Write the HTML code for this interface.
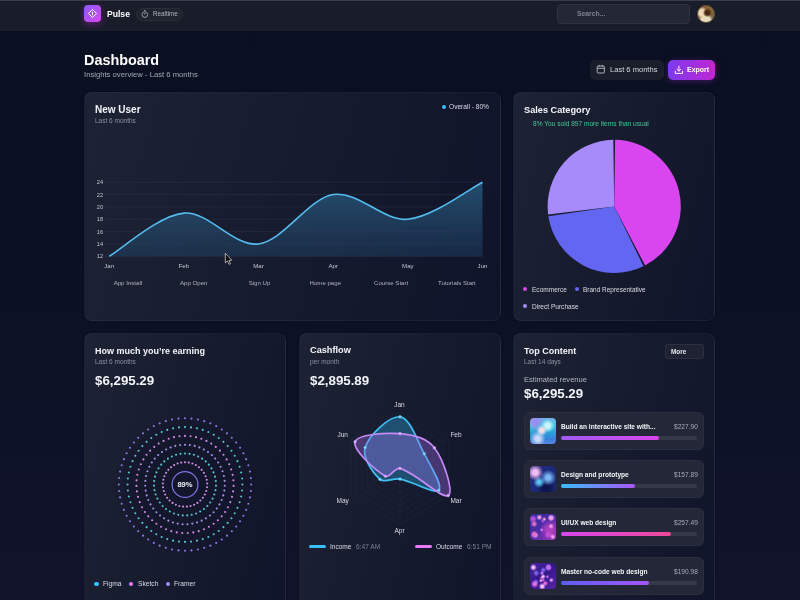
<!DOCTYPE html>
<html><head><meta charset="utf-8">
<style>
*{margin:0;padding:0;box-sizing:border-box}
html,body{width:800px;height:600px;overflow:hidden;background:linear-gradient(180deg,#0a0f21 0%,#0b1023 40%,#0e1228 75%,#11132b 100%);font-family:"Liberation Sans",sans-serif;color:#fff}
.a{position:absolute;white-space:nowrap}
body{-webkit-font-smoothing:antialiased}
.t{will-change:transform}
.nav{position:absolute;left:0;top:0;width:800px;height:31px;background:#191d2a;border-top:1.5px solid #3a3e4b}
.logo{left:84px;top:5.5px;width:17px;height:17px;border-radius:4px;background:linear-gradient(135deg,#8b5cf6,#d946ef);box-shadow:0 2px 7px rgba(192,38,211,.45)}
.card{position:absolute;border-radius:8px;border:1px solid rgba(255,255,255,.045);background:linear-gradient(105deg,#1d2235 0%,#181c2f 40%,#10142a 100%);box-shadow:0 0 2px rgba(0,0,0,.4)}
.ttl{font-weight:700;color:#f4f5f8}
.sub{color:#8c91a0}
.t{line-height:1}
</style></head><body>
<div class="nav"></div>
<div class="a logo" style="top:5.2px"><svg width="17" height="17" viewBox="0 0 17 17" style="position:absolute;left:0;top:0"><path d="M8.5 4.4 L12.6 8.5 L8.5 12.6 L4.4 8.5 Z" fill="none" stroke="#fff" stroke-width="1" stroke-linejoin="round"/><line x1="8.5" y1="7.1" x2="8.5" y2="9.9" stroke="#fff" stroke-width="1" stroke-linecap="round"/></svg></div>
<div class="a t ttl" style="left:106.6px;top:10px;font-size:8.6px;color:#fff">Pulse</div>
<div class="a" style="left:136px;top:7.5px;width:47px;height:13.5px;border-radius:7px;background:#20242f;border:1px solid #2a2e3a"></div>
<svg class="a" style="left:140px;top:8px" width="10" height="12" viewBox="0 0 10 12"><circle cx="4.8" cy="6.6" r="2.8" fill="none" stroke="#a4a8b3" stroke-width=".9"/><line x1="4" y1="2.6" x2="5.6" y2="2.6" stroke="#a4a8b3" stroke-width=".9"/><line x1="4.8" y1="6.6" x2="4.8" y2="5" stroke="#a4a8b3" stroke-width=".8"/></svg>
<div class="a t" style="left:152.8px;top:11.3px;font-size:6.3px;color:#b0b4be">Realtime</div>
<div class="a" style="left:557px;top:4px;width:133px;height:20px;border-radius:4px;background:#232736;border:1px solid #2e3242"></div>
<div class="a t" style="left:576.5px;top:11px;font-size:6.8px;font-weight:700;color:#7f8391">Search...</div>
<div class="a" style="left:697.3px;top:5.4px;width:17.6px;height:17.6px;border-radius:50%;border:1px solid #6b5440;border-color:#5e4e34;background:radial-gradient(circle at 58% 42%,#4a2812 0 16%,transparent 34%),radial-gradient(circle at 24% 42%,#ecd8b4 0 20%,transparent 38%),radial-gradient(circle at 48% 92%,#e6dcc2 0 26%,transparent 44%),radial-gradient(circle at 80% 60%,#7a6640 0 20%,transparent 40%),#8a6238"></div>

<div class="a t ttl" style="left:84px;top:52.6px;font-size:14.4px;color:#fff">Dashboard</div>
<div class="a t sub" style="left:84px;top:71px;font-size:7.68px;color:#a3a8b4">Insights overview - Last 6 months</div>

<div class="a" style="left:590px;top:60px;width:74px;height:19.5px;border-radius:5px;background:#1a1e2b"></div>
<svg class="a" style="left:596px;top:64px" width="10" height="11" viewBox="0 0 10 11"><rect x="1.2" y="2" width="7.2" height="7" rx="1.2" fill="none" stroke="#cfd2da" stroke-width=".8"/><line x1="1.2" y1="4.3" x2="8.4" y2="4.3" stroke="#cfd2da" stroke-width=".8"/><line x1="3.2" y1="1.1" x2="3.2" y2="2.7" stroke="#cfd2da" stroke-width=".8"/><line x1="6.4" y1="1.1" x2="6.4" y2="2.7" stroke="#cfd2da" stroke-width=".8"/></svg>
<div class="a t" style="left:610px;top:65.6px;font-size:7.56px;color:#d5d8df">Last 6 months</div>
<div class="a" style="left:668px;top:60px;width:47px;height:19.5px;border-radius:5px;background:linear-gradient(90deg,#7c3aed,#c026d3);box-shadow:0 1px 6px rgba(168,45,230,.35)"></div>
<svg class="a" style="left:673.5px;top:64.5px" width="10" height="10" viewBox="0 0 10 10"><path d="M1.3 6.2 V8.4 H8.5 V6.2" fill="none" stroke="#fff" stroke-width=".95" stroke-linecap="round" stroke-linejoin="round"/><path d="M4.9 1.2 V6 M3 4.2 L4.9 6 L6.8 4.2" fill="none" stroke="#fff" stroke-width=".95" stroke-linecap="round" stroke-linejoin="round"/></svg>
<div class="a t ttl" style="left:687px;top:66.8px;font-size:6.95px;color:#fff">Export</div>

<!-- CARD 1 -->
<div class="card" style="left:84px;top:92px;width:416.5px;height:228.5px"></div>
<div class="a t ttl" style="left:95px;top:104.6px;font-size:10px">New User</div>
<div class="a t sub" style="left:95px;top:118px;font-size:6.5px">Last 6 months</div>
<div class="a" style="left:442px;top:105px;width:4.1px;height:4.1px;border-radius:50%;background:#38bdf8"></div>
<div class="a t" style="left:449px;top:104px;font-size:6.6px;color:#d9dce3">Overall - 80%</div>
<svg class="a" style="left:0;top:0" width="800" height="600" viewBox="0 0 800 600">
<defs><linearGradient id="ag" x1="0" y1="0" x2="0" y2="1"><stop offset="0" stop-color="#3a94c4" stop-opacity=".45"/><stop offset="1" stop-color="#2a6494" stop-opacity=".26"/></linearGradient></defs>
<path d="M109.20,256.30 C121.64,249.10 158.97,215.13 183.86,213.08 C208.75,211.02 233.63,247.04 258.52,243.95 C283.41,240.86 308.29,198.67 333.18,194.55 C358.07,190.43 382.95,221.31 407.84,219.25 C432.73,217.19 470.06,188.38 482.50,182.20 L482.50,256.3 L109.20,256.3 Z" fill="url(#ag)"/>
<g stroke="#3a4058" stroke-opacity=".55" stroke-width=".6"><line x1="104.5" y1="256.30" x2="482.5" y2="256.30"/><line x1="104.5" y1="243.95" x2="482.5" y2="243.95"/><line x1="104.5" y1="231.60" x2="482.5" y2="231.60"/><line x1="104.5" y1="219.25" x2="482.5" y2="219.25"/><line x1="104.5" y1="206.90" x2="482.5" y2="206.90"/><line x1="104.5" y1="194.55" x2="482.5" y2="194.55"/><line x1="104.5" y1="182.20" x2="482.5" y2="182.20"/></g>
<path d="M109.20,256.30 C121.64,249.10 158.97,215.13 183.86,213.08 C208.75,211.02 233.63,247.04 258.52,243.95 C283.41,240.86 308.29,198.67 333.18,194.55 C358.07,190.43 382.95,221.31 407.84,219.25 C432.73,217.19 470.06,188.38 482.50,182.20" fill="none" stroke="#55bdef" stroke-width="1.6"/>
<g font-family="Liberation Sans" font-size="5.6" fill="#c3c7d0"><text x="103" y="258.40" text-anchor="end">12</text><text x="103" y="246.05" text-anchor="end">14</text><text x="103" y="233.70" text-anchor="end">16</text><text x="103" y="221.35" text-anchor="end">18</text><text x="103" y="209.00" text-anchor="end">20</text><text x="103" y="196.65" text-anchor="end">22</text><text x="103" y="184.30" text-anchor="end">24</text></g>
<g font-family="Liberation Sans" font-size="6.1" fill="#c3c7d0"><text x="109.20" y="267.8" text-anchor="middle">Jan</text><text x="183.86" y="267.8" text-anchor="middle">Feb</text><text x="258.52" y="267.8" text-anchor="middle">Mar</text><text x="333.18" y="267.8" text-anchor="middle">Apr</text><text x="407.84" y="267.8" text-anchor="middle">May</text><text x="482.50" y="267.8" text-anchor="middle">Jun</text></g>
<g font-family="Liberation Sans" font-size="6.1" fill="#aeb2bd"><text x="127.90" y="285" text-anchor="middle">App Install</text><text x="193.70" y="285" text-anchor="middle">App Open</text><text x="259.50" y="285" text-anchor="middle">Sign Up</text><text x="325.30" y="285" text-anchor="middle">Home page</text><text x="391.10" y="285" text-anchor="middle">Course Start</text><text x="456.90" y="285" text-anchor="middle">Tutorials Start</text></g>
<path d="M225.3 253.3 L225.3 262.8 L227.4 260.9 L229.1 264.4 L230.5 263.7 L228.9 260.4 L231.8 260.2 Z" fill="#050505" stroke="#d8d8d8" stroke-width=".75" stroke-linejoin="round"/>
</svg>

<!-- CARD 2 -->
<div class="card" style="left:513px;top:92px;width:202px;height:228.5px"></div>
<div class="a t ttl" style="left:523.8px;top:105.6px;font-size:9.2px">Sales Category</div>
<div class="a t" style="left:533px;top:120.6px;font-size:6.6px;color:#47c496">8% You sold 897 more items than usual</div>
<svg class="a" style="left:0;top:0" width="800" height="600" viewBox="0 0 800 600">
<g><path d="M614.2,206.4 L615.07,139.81 A66.6,66.6 0 0 1 645.11,265.39 Z" fill="#d946ef"/><path d="M614.2,206.4 L643.55,266.18 A66.6,66.6 0 0 1 548.34,216.30 Z" fill="#6366f1"/><path d="M614.2,206.4 L548.10,214.57 A66.6,66.6 0 0 1 613.33,139.81 Z" fill="#a78bfa"/></g>
</svg>
<div class="a" style="left:522.8px;top:287px;width:4.4px;height:4.4px;border-radius:50%;background:#d946ef"></div>
<div class="a t" style="left:531.7px;top:286.8px;font-size:6.56px;color:#d9dce3">Ecommerce</div>
<div class="a" style="left:575.1px;top:287px;width:4.4px;height:4.4px;border-radius:50%;background:#6366f1"></div>
<div class="a t" style="left:583.3px;top:286.8px;font-size:6.48px;color:#d9dce3">Brand Representative</div>
<div class="a" style="left:522.8px;top:303.7px;width:4.4px;height:4.4px;border-radius:50%;background:#a78bfa"></div>
<div class="a t" style="left:531.7px;top:303.5px;font-size:6.56px;color:#d9dce3">Direct Purchase</div>

<!-- CARD 3 earning -->
<div class="card" style="left:84px;top:333px;width:202px;height:300px"></div>
<div class="a t ttl" style="left:95px;top:346.8px;font-size:9px">How much you’re earning</div>
<div class="a t sub" style="left:95px;top:358.5px;font-size:6.5px">Last 6 months</div>
<div class="a t ttl" style="left:95px;top:374.4px;font-size:13.3px">$6,295.29</div>
<svg class="a" style="left:0;top:0" width="800" height="600" viewBox="0 0 800 600">
<circle cx="185" cy="484.5" r="70" fill="url(#rg)"/><defs><radialGradient id="rg"><stop offset="0" stop-color="#10132a" stop-opacity=".55"/><stop offset=".8" stop-color="#12152c" stop-opacity=".45"/><stop offset="1" stop-color="#12152c" stop-opacity="0"/></radialGradient></defs><g fill="#9078e4"><circle cx="185.00" cy="418.30" r="1.05"/><circle cx="191.49" cy="418.62" r="1.05"/><circle cx="197.91" cy="419.57" r="1.05"/><circle cx="204.22" cy="421.15" r="1.05"/><circle cx="210.33" cy="423.34" r="1.05"/><circle cx="216.21" cy="426.12" r="1.05"/><circle cx="221.78" cy="429.46" r="1.05"/><circle cx="227.00" cy="433.33" r="1.05"/><circle cx="231.81" cy="437.69" r="1.05"/><circle cx="236.17" cy="442.50" r="1.05"/><circle cx="240.04" cy="447.72" r="1.05"/><circle cx="243.38" cy="453.29" r="1.05"/><circle cx="246.16" cy="459.17" r="1.05"/><circle cx="248.35" cy="465.28" r="1.05"/><circle cx="249.93" cy="471.59" r="1.05"/><circle cx="250.88" cy="478.01" r="1.05"/><circle cx="251.20" cy="484.50" r="1.05"/><circle cx="250.88" cy="490.99" r="1.05"/><circle cx="249.93" cy="497.41" r="1.05"/><circle cx="248.35" cy="503.72" r="1.05"/><circle cx="246.16" cy="509.83" r="1.05"/><circle cx="243.38" cy="515.71" r="1.05"/><circle cx="240.04" cy="521.28" r="1.05"/><circle cx="236.17" cy="526.50" r="1.05"/><circle cx="231.81" cy="531.31" r="1.05"/><circle cx="227.00" cy="535.67" r="1.05"/><circle cx="221.78" cy="539.54" r="1.05"/><circle cx="216.21" cy="542.88" r="1.05"/><circle cx="210.33" cy="545.66" r="1.05"/><circle cx="204.22" cy="547.85" r="1.05"/><circle cx="197.91" cy="549.43" r="1.05"/><circle cx="191.49" cy="550.38" r="1.05"/><circle cx="185.00" cy="550.70" r="1.05"/><circle cx="178.51" cy="550.38" r="1.05"/><circle cx="172.09" cy="549.43" r="1.05"/><circle cx="165.78" cy="547.85" r="1.05"/><circle cx="159.67" cy="545.66" r="1.05"/><circle cx="153.79" cy="542.88" r="1.05"/><circle cx="148.22" cy="539.54" r="1.05"/><circle cx="143.00" cy="535.67" r="1.05"/><circle cx="138.19" cy="531.31" r="1.05"/><circle cx="133.83" cy="526.50" r="1.05"/><circle cx="129.96" cy="521.28" r="1.05"/><circle cx="126.62" cy="515.71" r="1.05"/><circle cx="123.84" cy="509.83" r="1.05"/><circle cx="121.65" cy="503.72" r="1.05"/><circle cx="120.07" cy="497.41" r="1.05"/><circle cx="119.12" cy="490.99" r="1.05"/><circle cx="118.80" cy="484.50" r="1.05"/><circle cx="119.12" cy="478.01" r="1.05"/><circle cx="120.07" cy="471.59" r="1.05"/><circle cx="121.65" cy="465.28" r="1.05"/><circle cx="123.84" cy="459.17" r="1.05"/><circle cx="126.62" cy="453.29" r="1.05"/><circle cx="129.96" cy="447.72" r="1.05"/><circle cx="133.83" cy="442.50" r="1.05"/><circle cx="138.19" cy="437.69" r="1.05"/><circle cx="143.00" cy="433.33" r="1.05"/><circle cx="148.22" cy="429.46" r="1.05"/><circle cx="153.79" cy="426.12" r="1.05"/><circle cx="159.67" cy="423.34" r="1.05"/><circle cx="165.78" cy="421.15" r="1.05"/><circle cx="172.09" cy="419.57" r="1.05"/><circle cx="178.51" cy="418.62" r="1.05"/></g><g fill="#55c6d0"><circle cx="185.00" cy="427.10" r="1.05"/><circle cx="191.00" cy="427.41" r="1.05"/><circle cx="196.93" cy="428.35" r="1.05"/><circle cx="202.74" cy="429.91" r="1.05"/><circle cx="208.35" cy="432.06" r="1.05"/><circle cx="213.70" cy="434.79" r="1.05"/><circle cx="218.74" cy="438.06" r="1.05"/><circle cx="223.41" cy="441.84" r="1.05"/><circle cx="227.66" cy="446.09" r="1.05"/><circle cx="231.44" cy="450.76" r="1.05"/><circle cx="234.71" cy="455.80" r="1.05"/><circle cx="237.44" cy="461.15" r="1.05"/><circle cx="239.59" cy="466.76" r="1.05"/><circle cx="241.15" cy="472.57" r="1.05"/><circle cx="242.09" cy="478.50" r="1.05"/><circle cx="242.40" cy="484.50" r="1.05"/><circle cx="242.09" cy="490.50" r="1.05"/><circle cx="241.15" cy="496.43" r="1.05"/><circle cx="239.59" cy="502.24" r="1.05"/><circle cx="237.44" cy="507.85" r="1.05"/><circle cx="234.71" cy="513.20" r="1.05"/><circle cx="231.44" cy="518.24" r="1.05"/><circle cx="227.66" cy="522.91" r="1.05"/><circle cx="223.41" cy="527.16" r="1.05"/><circle cx="218.74" cy="530.94" r="1.05"/><circle cx="213.70" cy="534.21" r="1.05"/><circle cx="208.35" cy="536.94" r="1.05"/><circle cx="202.74" cy="539.09" r="1.05"/><circle cx="196.93" cy="540.65" r="1.05"/><circle cx="191.00" cy="541.59" r="1.05"/><circle cx="185.00" cy="541.90" r="1.05"/><circle cx="179.00" cy="541.59" r="1.05"/><circle cx="173.07" cy="540.65" r="1.05"/><circle cx="167.26" cy="539.09" r="1.05"/><circle cx="161.65" cy="536.94" r="1.05"/><circle cx="156.30" cy="534.21" r="1.05"/><circle cx="151.26" cy="530.94" r="1.05"/><circle cx="146.59" cy="527.16" r="1.05"/><circle cx="142.34" cy="522.91" r="1.05"/><circle cx="138.56" cy="518.24" r="1.05"/><circle cx="135.29" cy="513.20" r="1.05"/><circle cx="132.56" cy="507.85" r="1.05"/><circle cx="130.41" cy="502.24" r="1.05"/><circle cx="128.85" cy="496.43" r="1.05"/><circle cx="127.91" cy="490.50" r="1.05"/><circle cx="127.60" cy="484.50" r="1.05"/><circle cx="127.91" cy="478.50" r="1.05"/><circle cx="128.85" cy="472.57" r="1.05"/><circle cx="130.41" cy="466.76" r="1.05"/><circle cx="132.56" cy="461.15" r="1.05"/><circle cx="135.29" cy="455.80" r="1.05"/><circle cx="138.56" cy="450.76" r="1.05"/><circle cx="142.34" cy="446.09" r="1.05"/><circle cx="146.59" cy="441.84" r="1.05"/><circle cx="151.26" cy="438.06" r="1.05"/><circle cx="156.30" cy="434.79" r="1.05"/><circle cx="161.65" cy="432.06" r="1.05"/><circle cx="167.26" cy="429.91" r="1.05"/><circle cx="173.07" cy="428.35" r="1.05"/><circle cx="179.00" cy="427.41" r="1.05"/></g><g fill="#d28ae4"><circle cx="185.00" cy="435.90" r="1.05"/><circle cx="190.54" cy="436.22" r="1.05"/><circle cx="196.01" cy="437.16" r="1.05"/><circle cx="201.33" cy="438.73" r="1.05"/><circle cx="206.44" cy="440.89" r="1.05"/><circle cx="211.28" cy="443.62" r="1.05"/><circle cx="215.76" cy="446.88" r="1.05"/><circle cx="219.85" cy="450.63" r="1.05"/><circle cx="223.49" cy="454.82" r="1.05"/><circle cx="226.62" cy="459.40" r="1.05"/><circle cx="229.21" cy="464.31" r="1.05"/><circle cx="231.22" cy="469.48" r="1.05"/><circle cx="232.63" cy="474.85" r="1.05"/><circle cx="233.42" cy="480.34" r="1.05"/><circle cx="233.58" cy="485.89" r="1.05"/><circle cx="233.11" cy="491.42" r="1.05"/><circle cx="232.00" cy="496.86" r="1.05"/><circle cx="230.29" cy="502.13" r="1.05"/><circle cx="227.98" cy="507.18" r="1.05"/><circle cx="225.12" cy="511.93" r="1.05"/><circle cx="221.73" cy="516.33" r="1.05"/><circle cx="217.86" cy="520.31" r="1.05"/><circle cx="213.57" cy="523.82" r="1.05"/><circle cx="208.90" cy="526.82" r="1.05"/><circle cx="203.92" cy="529.27" r="1.05"/><circle cx="198.69" cy="531.13" r="1.05"/><circle cx="193.29" cy="532.39" r="1.05"/><circle cx="187.77" cy="533.02" r="1.05"/><circle cx="182.23" cy="533.02" r="1.05"/><circle cx="176.71" cy="532.39" r="1.05"/><circle cx="171.31" cy="531.13" r="1.05"/><circle cx="166.08" cy="529.27" r="1.05"/><circle cx="161.10" cy="526.82" r="1.05"/><circle cx="156.43" cy="523.82" r="1.05"/><circle cx="152.14" cy="520.31" r="1.05"/><circle cx="148.27" cy="516.33" r="1.05"/><circle cx="144.88" cy="511.93" r="1.05"/><circle cx="142.02" cy="507.18" r="1.05"/><circle cx="139.71" cy="502.13" r="1.05"/><circle cx="138.00" cy="496.86" r="1.05"/><circle cx="136.89" cy="491.42" r="1.05"/><circle cx="136.42" cy="485.89" r="1.05"/><circle cx="136.58" cy="480.34" r="1.05"/><circle cx="137.37" cy="474.85" r="1.05"/><circle cx="138.78" cy="469.48" r="1.05"/><circle cx="140.79" cy="464.31" r="1.05"/><circle cx="143.38" cy="459.40" r="1.05"/><circle cx="146.51" cy="454.82" r="1.05"/><circle cx="150.15" cy="450.63" r="1.05"/><circle cx="154.24" cy="446.88" r="1.05"/><circle cx="158.72" cy="443.62" r="1.05"/><circle cx="163.56" cy="440.89" r="1.05"/><circle cx="168.67" cy="438.73" r="1.05"/><circle cx="173.99" cy="437.16" r="1.05"/><circle cx="179.46" cy="436.22" r="1.05"/></g><g fill="#ab90e6"><circle cx="185.00" cy="444.70" r="1.05"/><circle cx="189.89" cy="445.00" r="1.05"/><circle cx="194.71" cy="445.90" r="1.05"/><circle cx="199.38" cy="447.39" r="1.05"/><circle cx="203.83" cy="449.44" r="1.05"/><circle cx="208.00" cy="452.02" r="1.05"/><circle cx="211.81" cy="455.09" r="1.05"/><circle cx="215.22" cy="458.61" r="1.05"/><circle cx="218.18" cy="462.52" r="1.05"/><circle cx="220.63" cy="466.76" r="1.05"/><circle cx="222.54" cy="471.27" r="1.05"/><circle cx="223.88" cy="475.99" r="1.05"/><circle cx="224.63" cy="480.83" r="1.05"/><circle cx="224.78" cy="485.73" r="1.05"/><circle cx="224.33" cy="490.60" r="1.05"/><circle cx="223.28" cy="495.39" r="1.05"/><circle cx="221.65" cy="500.01" r="1.05"/><circle cx="219.47" cy="504.40" r="1.05"/><circle cx="216.76" cy="508.48" r="1.05"/><circle cx="213.57" cy="512.21" r="1.05"/><circle cx="209.95" cy="515.51" r="1.05"/><circle cx="205.95" cy="518.34" r="1.05"/><circle cx="201.63" cy="520.66" r="1.05"/><circle cx="197.07" cy="522.43" r="1.05"/><circle cx="192.31" cy="523.62" r="1.05"/><circle cx="187.45" cy="524.22" r="1.05"/><circle cx="182.55" cy="524.22" r="1.05"/><circle cx="177.69" cy="523.62" r="1.05"/><circle cx="172.93" cy="522.43" r="1.05"/><circle cx="168.37" cy="520.66" r="1.05"/><circle cx="164.05" cy="518.34" r="1.05"/><circle cx="160.05" cy="515.51" r="1.05"/><circle cx="156.43" cy="512.21" r="1.05"/><circle cx="153.24" cy="508.48" r="1.05"/><circle cx="150.53" cy="504.40" r="1.05"/><circle cx="148.35" cy="500.01" r="1.05"/><circle cx="146.72" cy="495.39" r="1.05"/><circle cx="145.67" cy="490.60" r="1.05"/><circle cx="145.22" cy="485.73" r="1.05"/><circle cx="145.37" cy="480.83" r="1.05"/><circle cx="146.12" cy="475.99" r="1.05"/><circle cx="147.46" cy="471.27" r="1.05"/><circle cx="149.37" cy="466.76" r="1.05"/><circle cx="151.82" cy="462.52" r="1.05"/><circle cx="154.78" cy="458.61" r="1.05"/><circle cx="158.19" cy="455.09" r="1.05"/><circle cx="162.00" cy="452.02" r="1.05"/><circle cx="166.17" cy="449.44" r="1.05"/><circle cx="170.62" cy="447.39" r="1.05"/><circle cx="175.29" cy="445.90" r="1.05"/><circle cx="180.11" cy="445.00" r="1.05"/></g><g fill="#55c6d0"><circle cx="185.00" cy="453.50" r="1.05"/><circle cx="189.51" cy="453.83" r="1.05"/><circle cx="193.93" cy="454.81" r="1.05"/><circle cx="198.16" cy="456.43" r="1.05"/><circle cx="202.10" cy="458.65" r="1.05"/><circle cx="205.69" cy="461.41" r="1.05"/><circle cx="208.83" cy="464.67" r="1.05"/><circle cx="211.46" cy="468.35" r="1.05"/><circle cx="213.53" cy="472.38" r="1.05"/><circle cx="214.99" cy="476.66" r="1.05"/><circle cx="215.81" cy="481.11" r="1.05"/><circle cx="215.98" cy="485.63" r="1.05"/><circle cx="215.48" cy="490.13" r="1.05"/><circle cx="214.34" cy="494.51" r="1.05"/><circle cx="212.57" cy="498.67" r="1.05"/><circle cx="210.21" cy="502.54" r="1.05"/><circle cx="207.32" cy="506.02" r="1.05"/><circle cx="203.95" cy="509.04" r="1.05"/><circle cx="200.17" cy="511.53" r="1.05"/><circle cx="196.07" cy="513.45" r="1.05"/><circle cx="191.74" cy="514.76" r="1.05"/><circle cx="187.26" cy="515.42" r="1.05"/><circle cx="182.74" cy="515.42" r="1.05"/><circle cx="178.26" cy="514.76" r="1.05"/><circle cx="173.93" cy="513.45" r="1.05"/><circle cx="169.83" cy="511.53" r="1.05"/><circle cx="166.05" cy="509.04" r="1.05"/><circle cx="162.68" cy="506.02" r="1.05"/><circle cx="159.79" cy="502.54" r="1.05"/><circle cx="157.43" cy="498.67" r="1.05"/><circle cx="155.66" cy="494.51" r="1.05"/><circle cx="154.52" cy="490.13" r="1.05"/><circle cx="154.02" cy="485.63" r="1.05"/><circle cx="154.19" cy="481.11" r="1.05"/><circle cx="155.01" cy="476.66" r="1.05"/><circle cx="156.47" cy="472.38" r="1.05"/><circle cx="158.54" cy="468.35" r="1.05"/><circle cx="161.17" cy="464.67" r="1.05"/><circle cx="164.31" cy="461.41" r="1.05"/><circle cx="167.90" cy="458.65" r="1.05"/><circle cx="171.84" cy="456.43" r="1.05"/><circle cx="176.07" cy="454.81" r="1.05"/><circle cx="180.49" cy="453.83" r="1.05"/></g><g fill="#d68ee6"><circle cx="185.00" cy="462.30" r="1.05"/><circle cx="188.75" cy="462.62" r="1.05"/><circle cx="192.40" cy="463.57" r="1.05"/><circle cx="195.83" cy="465.12" r="1.05"/><circle cx="198.95" cy="467.23" r="1.05"/><circle cx="201.66" cy="469.83" r="1.05"/><circle cx="203.90" cy="472.86" r="1.05"/><circle cx="205.60" cy="476.22" r="1.05"/><circle cx="206.70" cy="479.82" r="1.05"/><circle cx="207.18" cy="483.56" r="1.05"/><circle cx="207.02" cy="487.32" r="1.05"/><circle cx="206.23" cy="491.00" r="1.05"/><circle cx="204.82" cy="494.49" r="1.05"/><circle cx="202.85" cy="497.70" r="1.05"/><circle cx="200.36" cy="500.53" r="1.05"/><circle cx="197.43" cy="502.89" r="1.05"/><circle cx="194.14" cy="504.73" r="1.05"/><circle cx="190.59" cy="505.98" r="1.05"/><circle cx="186.88" cy="506.62" r="1.05"/><circle cx="183.12" cy="506.62" r="1.05"/><circle cx="179.41" cy="505.98" r="1.05"/><circle cx="175.86" cy="504.73" r="1.05"/><circle cx="172.57" cy="502.89" r="1.05"/><circle cx="169.64" cy="500.53" r="1.05"/><circle cx="167.15" cy="497.70" r="1.05"/><circle cx="165.18" cy="494.49" r="1.05"/><circle cx="163.77" cy="491.00" r="1.05"/><circle cx="162.98" cy="487.32" r="1.05"/><circle cx="162.82" cy="483.56" r="1.05"/><circle cx="163.30" cy="479.82" r="1.05"/><circle cx="164.40" cy="476.22" r="1.05"/><circle cx="166.10" cy="472.86" r="1.05"/><circle cx="168.34" cy="469.83" r="1.05"/><circle cx="171.05" cy="467.23" r="1.05"/><circle cx="174.17" cy="465.12" r="1.05"/><circle cx="177.60" cy="463.57" r="1.05"/><circle cx="181.25" cy="462.62" r="1.05"/></g>
<circle cx="185" cy="484.5" r="12.9" fill="none" stroke="#8073e6" stroke-width="1.2"/>
<text x="185" y="487.3" text-anchor="middle" font-family="Liberation Sans" font-size="7.6" font-weight="700" fill="#f2f3f6">89%</text>
</svg>
<div class="a" style="left:94.3px;top:581.8px;width:4.4px;height:4.4px;border-radius:50%;background:#38bdf8"></div>
<div class="a t" style="left:102.8px;top:580.6px;font-size:6.66px;color:#d9dce3">Figma</div>
<div class="a" style="left:129px;top:581.8px;width:4.4px;height:4.4px;border-radius:50%;background:#e879f9"></div>
<div class="a t" style="left:137.7px;top:580.6px;font-size:6.66px;color:#d9dce3">Sketch</div>
<div class="a" style="left:165.8px;top:581.8px;width:4.4px;height:4.4px;border-radius:50%;background:#a78bfa"></div>
<div class="a t" style="left:174.3px;top:580.6px;font-size:6.66px;color:#d9dce3">Framer</div>

<!-- CARD 4 cashflow -->
<div class="card" style="left:298.5px;top:333px;width:202px;height:300px"></div>
<div class="a t ttl" style="left:309.8px;top:346px;font-size:9.2px">Cashflow</div>
<div class="a t sub" style="left:309.8px;top:358.5px;font-size:6.5px">per month</div>
<div class="a t ttl" style="left:309.8px;top:374.4px;font-size:13.3px">$2,895.89</div>
<svg class="a" style="left:0;top:0" width="800" height="600" viewBox="0 0 800 600">
<g fill="none" stroke="#363b56" stroke-opacity=".5" stroke-width=".45"><polygon points="400.00,461.52 405.44,464.66 405.44,470.94 400.00,474.08 394.56,470.94 394.56,464.66"/><polygon points="400.00,455.24 410.87,461.52 410.87,474.08 400.00,480.36 389.13,474.08 389.13,461.52"/><polygon points="400.00,448.97 416.31,458.38 416.31,477.22 400.00,486.63 383.69,477.22 383.69,458.38"/><polygon points="400.00,442.69 421.75,455.24 421.75,480.36 400.00,492.91 378.25,480.36 378.25,455.24"/><polygon points="400.00,436.41 427.18,452.11 427.18,483.49 400.00,499.19 372.82,483.49 372.82,452.11"/><polygon points="400.00,430.13 432.62,448.97 432.62,486.63 400.00,505.47 367.38,486.63 367.38,448.97"/><polygon points="400.00,423.86 438.06,445.83 438.06,489.77 400.00,511.74 361.94,489.77 361.94,445.83"/><polygon points="400.00,417.58 443.49,442.69 443.49,492.91 400.00,518.02 356.51,492.91 356.51,442.69"/><polygon points="400.00,411.30 448.93,439.55 448.93,496.05 400.00,524.30 351.07,496.05 351.07,439.55"/><line x1="400" y1="467.8" x2="400.00" y2="411.30"/><line x1="400" y1="467.8" x2="448.93" y2="439.55"/><line x1="400" y1="467.8" x2="448.93" y2="496.05"/><line x1="400" y1="467.8" x2="400.00" y2="524.30"/><line x1="400" y1="467.8" x2="351.07" y2="496.05"/><line x1="400" y1="467.8" x2="351.07" y2="439.55"/></g>
<path d="M400.00,416.80 C410.08,417.85 417.04,440.18 424.25,453.80 C430.65,465.89 443.06,485.90 438.88,490.25 C434.58,494.73 413.79,481.60 400.00,479.05 C393.18,477.79 384.44,483.35 379.99,479.35 C372.22,472.36 362.09,457.05 365.10,447.65 C369.10,435.15 389.38,415.70 400.00,416.80 Z" fill="#2fb2ee" fill-opacity=".34" stroke="#3ec0f5" stroke-width="1.7"/>
<path d="M400.00,433.65 C412.49,434.60 427.24,438.60 434.47,447.90 C444.09,460.28 453.86,492.21 448.15,495.60 C441.79,499.38 416.90,473.63 400.00,468.40 C394.96,466.84 389.61,478.66 385.45,476.20 C373.88,469.37 352.50,449.31 355.05,441.85 C357.59,434.42 384.70,432.48 400.00,433.65 Z" fill="#a86ef0" fill-opacity=".34" stroke="#c48af8" stroke-width="1.7"/>
<g fill="#a8ddf8" stroke="#3ec0f5" stroke-width=".6"><circle cx="400.00" cy="416.80" r="1.3"/><circle cx="424.25" cy="453.80" r="1.3"/><circle cx="438.88" cy="490.25" r="1.3"/><circle cx="400.00" cy="479.05" r="1.3"/><circle cx="379.99" cy="479.35" r="1.3"/><circle cx="365.10" cy="447.65" r="1.3"/></g>
<g fill="#dcc0fb" stroke="#c48af8" stroke-width=".6"><circle cx="400.00" cy="433.65" r="1.3"/><circle cx="434.47" cy="447.90" r="1.3"/><circle cx="448.15" cy="495.60" r="1.3"/><circle cx="400.00" cy="468.40" r="1.3"/><circle cx="385.45" cy="476.20" r="1.3"/><circle cx="355.05" cy="441.85" r="1.3"/></g>
<g font-family="Liberation Sans" font-size="6.5" fill="#d8dbe2"><text x="399.5" y="407" text-anchor="middle">Jan</text><text x="456" y="437" text-anchor="middle">Feb</text><text x="456" y="503" text-anchor="middle">Mar</text><text x="399.5" y="533" text-anchor="middle">Apr</text><text x="342.7" y="503" text-anchor="middle">May</text><text x="342.7" y="437" text-anchor="middle">Jun</text></g>
</svg>
<div class="a" style="left:309px;top:545.4px;width:17px;height:3px;border-radius:2px;background:#38bdf8"></div>
<div class="a t" style="left:330px;top:544.2px;font-size:6.56px;color:#d9dce3">Income</div>
<div class="a t" style="left:356px;top:544.2px;font-size:6.6px;color:#7d8292">6:47 AM</div>
<div class="a" style="left:415px;top:545.4px;width:16.6px;height:3px;border-radius:2px;background:#e879f9"></div>
<div class="a t" style="left:435.6px;top:544.2px;font-size:6.51px;color:#d9dce3">Outcome</div>
<div class="a t" style="left:466.5px;top:544.2px;font-size:6.6px;color:#7d8292">6:51 PM</div>

<!-- CARD 5 top content -->
<div class="card" style="left:513px;top:333px;width:202px;height:300px"></div>
<div class="a t ttl" style="left:524.2px;top:346.6px;font-size:9px">Top Content</div>
<div class="a t sub" style="left:524.2px;top:358.5px;font-size:6.5px">Last 14 days</div>
<div class="a" style="left:665px;top:344.2px;width:39.4px;height:14.6px;border-radius:2.5px;background:#1f2233;border:1px solid #2b2f40"></div>
<div class="a t ttl" style="left:670.8px;top:348.6px;font-size:6.4px;color:#e6e8ee">More</div>
<div class="a t" style="left:524.2px;top:376px;font-size:7.56px;color:#b3b7c2">Estimated revenue</div>
<div class="a t ttl" style="left:524.2px;top:386.5px;font-size:13.3px">$6,295.29</div>
<div class="a" style="left:523.7px;top:412px;width:180.5px;height:38px;border-radius:6px;background:#232737;border:1px solid rgba(255,255,255,.035)"></div>
<div class="a" style="left:530px;top:418px;width:25.5px;height:25.5px;border-radius:4px;background:radial-gradient(circle at 45% 48%,#f2dce8 0 10%,transparent 28%),radial-gradient(circle at 68% 30%,#c8f6ff 0 9%,transparent 26%),radial-gradient(circle at 30% 80%,#c4dcf8 0 8%,transparent 28%),radial-gradient(circle at 20% 15%,#9a8cf0 0 8%,transparent 30%),linear-gradient(180deg,#78b0ee 0%,#40cae2 28%,#2aa4da 55%,#3a7ed8 82%,#5a88e2 100%)"></div>
<div class="a t ttl" style="left:561.2px;top:424.2px;font-size:6.6px">Build an interactive site with...</div>
<div class="a t" style="right:102.5px;top:424.2px;font-size:6.6px;color:#a6aab5">$227.90</div>
<div class="a" style="left:561.2px;top:436.2px;width:136.3px;height:3.8px;border-radius:2px;background:#353948"></div>
<div class="a" style="left:561.2px;top:436.2px;width:98.30px;height:3.8px;border-radius:2px;background:linear-gradient(90deg,#9f5cf0,#d946ef)"></div>
<div class="a" style="left:523.7px;top:460px;width:180.5px;height:38px;border-radius:6px;background:#232737;border:1px solid rgba(255,255,255,.035)"></div>
<div class="a" style="left:530px;top:466px;width:25.5px;height:25.5px;border-radius:4px;background:radial-gradient(circle at 20% 25%,#f0bcf2 0 9%,transparent 28%),radial-gradient(circle at 70% 45%,#7cb8f8 0 9%,transparent 34%),radial-gradient(circle at 35% 62%,#5ac2f0 0 7%,transparent 25%),radial-gradient(circle at 62% 85%,#0e1650 0 14%,transparent 36%),linear-gradient(135deg,#3c2c84 0%,#1c2a7c 40%,#1a2c72 100%)"></div>
<div class="a t ttl" style="left:561.2px;top:472.2px;font-size:6.6px">Design and prototype</div>
<div class="a t" style="right:102.5px;top:472.2px;font-size:6.6px;color:#a6aab5">$157.89</div>
<div class="a" style="left:561.2px;top:484.2px;width:136.3px;height:3.8px;border-radius:2px;background:#353948"></div>
<div class="a" style="left:561.2px;top:484.2px;width:73.80px;height:3.8px;border-radius:2px;background:linear-gradient(90deg,#38bdf8,#a855f7)"></div>
<div class="a" style="left:523.7px;top:508px;width:180.5px;height:38px;border-radius:6px;background:#232737;border:1px solid rgba(255,255,255,.035)"></div>
<div class="a" style="left:530px;top:514px;width:25.5px;height:25.5px;border-radius:4px;background:radial-gradient(circle at 49% 27%,#c050d8 0 2%,transparent 9%),radial-gradient(circle at 17% 76%,#e86ad0 0 3%,transparent 11%),radial-gradient(circle at 82% 15%,#f0a0e8 0 3%,transparent 11%),radial-gradient(circle at 12% 19%,#c050d8 0 4%,transparent 13%),radial-gradient(circle at 16% 38%,#e86ad0 0 4%,transparent 13%),radial-gradient(circle at 15% 80%,#e86ad0 0 3%,transparent 11%),radial-gradient(circle at 88% 88%,#f0a0e8 0 2%,transparent 9%),radial-gradient(circle at 81% 82%,#c050d8 0 2%,transparent 9%),radial-gradient(circle at 36% 13%,#f0a0e8 0 3%,transparent 11%),radial-gradient(circle at 45% 61%,#d080f0 0 2%,transparent 9%),radial-gradient(circle at 81% 47%,#f0a0e8 0 3%,transparent 11%),radial-gradient(circle at 21% 82%,#f0a0e8 0 3%,transparent 11%),radial-gradient(circle at 55% 20%,#f0a0e8 0 2%,transparent 9%),radial-gradient(circle at 80% 15%,#f0a0e8 0 3%,transparent 11%),radial-gradient(circle at 71% 76%,#c050d8 0 3%,transparent 11%),radial-gradient(circle at 67% 82%,#c050d8 0 3%,transparent 11%),radial-gradient(circle at 75% 60%,#b040c0 0 10%,transparent 40%),linear-gradient(135deg,#2c2c98 0%,#4a2ca8 45%,#9a38b8 100%)"></div>
<div class="a t ttl" style="left:561.2px;top:520.2px;font-size:6.6px">UI/UX web design</div>
<div class="a t" style="right:102.5px;top:520.2px;font-size:6.6px;color:#a6aab5">$257.49</div>
<div class="a" style="left:561.2px;top:532.2px;width:136.3px;height:3.8px;border-radius:2px;background:#353948"></div>
<div class="a" style="left:561.2px;top:532.2px;width:110.05px;height:3.8px;border-radius:2px;background:linear-gradient(90deg,#d946ef,#ec4899)"></div>
<div class="a" style="left:523.7px;top:557px;width:180.5px;height:38px;border-radius:6px;background:#232737;border:1px solid rgba(255,255,255,.035)"></div>
<div class="a" style="left:530px;top:563px;width:25.5px;height:25.5px;border-radius:4px;background:radial-gradient(circle at 46% 39%,#c070f0 0 3%,transparent 11%),radial-gradient(circle at 18% 81%,#e870e0 0 4%,transparent 13%),radial-gradient(circle at 51% 65%,#e870e0 0 2%,transparent 9%),radial-gradient(circle at 23% 73%,#7a60f0 0 3%,transparent 11%),radial-gradient(circle at 51% 27%,#7a60f0 0 4%,transparent 13%),radial-gradient(circle at 13% 17%,#ffc0ff 0 3%,transparent 11%),radial-gradient(circle at 51% 52%,#ffc0ff 0 4%,transparent 13%),radial-gradient(circle at 82% 66%,#f0a0f0 0 2%,transparent 9%),radial-gradient(circle at 42% 68%,#f0a0f0 0 2%,transparent 9%),radial-gradient(circle at 47% 90%,#ffc0ff 0 4%,transparent 13%),radial-gradient(circle at 44% 57%,#e870e0 0 2%,transparent 9%),radial-gradient(circle at 67% 53%,#c070f0 0 2%,transparent 9%),radial-gradient(circle at 71% 15%,#c070f0 0 3%,transparent 11%),radial-gradient(circle at 24% 39%,#7a60f0 0 4%,transparent 13%),radial-gradient(circle at 71% 18%,#c070f0 0 4%,transparent 13%),radial-gradient(circle at 59% 78%,#e870e0 0 3%,transparent 11%),linear-gradient(135deg,#4a24a4,#341888 50%,#5a24a8)"></div>
<div class="a t ttl" style="left:561.2px;top:569.2px;font-size:6.6px">Master no-code web design</div>
<div class="a t" style="right:102.5px;top:569.2px;font-size:6.6px;color:#a6aab5">$190.98</div>
<div class="a" style="left:561.2px;top:581.2px;width:136.3px;height:3.8px;border-radius:2px;background:#353948"></div>
<div class="a" style="left:561.2px;top:581.2px;width:87.55px;height:3.8px;border-radius:2px;background:linear-gradient(90deg,#5b5ff0,#a855f7)"></div>
</body></html>
